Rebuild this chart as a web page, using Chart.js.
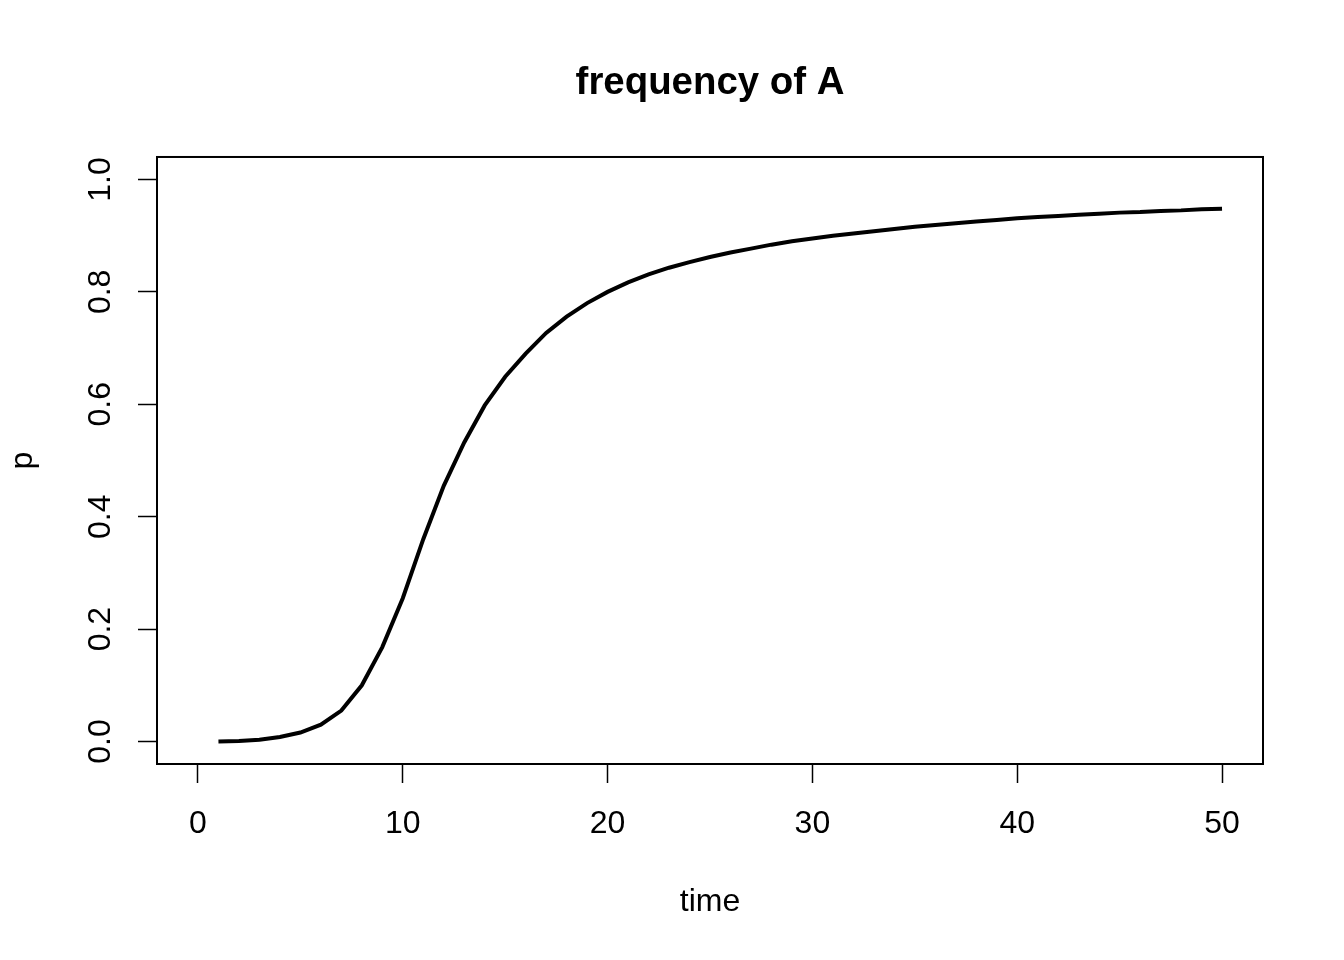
<!DOCTYPE html>
<html>
<head>
<meta charset="utf-8">
<title>frequency of A</title>
<script src="https://cdn.jsdelivr.net/npm/chart.js@4"></script>
<style>
  body { margin: 0; background: #fff; }
  canvas { display: block; }
</style>
</head>
<body>
<canvas id="chart" width="1344" height="960"></canvas>
<script>
// values
const times = [1, 2, 3, 4, 5, 6, 7, 8, 9, 10,
               11, 12, 13, 14, 15, 16, 17, 18, 19, 20,
               21, 22, 23, 24, 25, 26, 27, 28, 29, 30,
               31, 32, 33, 34, 35, 36, 37, 38, 39, 40,
               41, 42, 43, 44, 45, 46, 47, 48, 49, 50];
const freqA = [0.000, 0.001, 0.003, 0.008, 0.016, 0.030, 0.055, 0.100, 0.168, 0.255,
               0.360, 0.455, 0.532, 0.598, 0.649, 0.690, 0.727, 0.756, 0.780, 0.800,
               0.817, 0.831, 0.843, 0.853, 0.862, 0.870, 0.877, 0.884, 0.890, 0.895,
               0.900, 0.904, 0.908, 0.912, 0.916, 0.919, 0.922, 0.925, 0.928, 0.931,
               0.933, 0.935, 0.937, 0.939, 0.941, 0.942, 0.944, 0.945, 0.947, 0.948];
const xTicks = [0, 10, 20, 30, 40, 50];
const yTicks = [0, 0.2, 0.4, 0.6, 0.8, 1.0];

const FONT = "'Liberation Sans', Arial, Helvetica, sans-serif";

// R-style box around the plot region
const boxPlugin = {
    id: "box",
    afterDraw(chart) {
        const a = chart.chartArea;
        const ctx = chart.ctx;
        ctx.save();
        ctx.strokeStyle = "#000";
        ctx.lineWidth = 2;
        ctx.strokeRect(a.left, a.top, a.right - a.left, a.bottom - a.top);
        ctx.restore();
    }
};

const whiteBg = {
    id: "whiteBg",
    beforeDraw(chart) {
        const ctx = chart.ctx;
        ctx.save();
        ctx.fillStyle = "#fff";
        ctx.fillRect(0, 0, chart.width, chart.height);
        ctx.restore();
    }
};

const ctx = document.getElementById("chart").getContext("2d");
new Chart(ctx, {
    type: "line",
    data: {
        datasets: [{
            data: times.map((t, i) => ({ x: t, y: freqA[i] })),
            borderColor: "#000",
            borderWidth: 4,
            pointRadius: 0,
            tension: 0,
            fill: false
        }]
    },
    options: {
        responsive: false,
        animation: false,
        layout: { padding: { left: 0, right: 81, top: 0, bottom: 0 } },
        plugins: {
            legend: { display: false },
            tooltip: { enabled: false },
            title: {
                display: true,
                text: "frequency of A",
                fullSize: false,
                color: "#000",
                font: { family: FONT, size: 38.4, weight: "bold", lineHeight: 1.2 },
                padding: { top: 60, bottom: 50.9 }
            }
        },
        scales: {
            x: {
                type: "linear",
                min: -2,
                max: 52,
                afterBuildTicks: (scale) => { scale.ticks = xTicks.map(v => ({ value: v })); },
                afterFit: (scale) => { scale.height = 196; },
                grid: {
                    display: true,
                    drawOnChartArea: false,
                    drawTicks: true,
                    tickLength: 19,
                    tickColor: "#000",
                    tickWidth: 1.5
                },
                border: { display: true, color: "#000", width: 2 },
                ticks: {
                    color: "#000",
                    font: { family: FONT, size: 32 },
                    padding: 22,
                    maxRotation: 0,
                    autoSkip: false
                },
                title: {
                    display: true,
                    text: "time",
                    color: "#000",
                    font: { family: FONT, size: 32, lineHeight: 1.2 },
                    padding: { top: 0, bottom: 39 }
                }
            },
            y: {
                min: -0.04,
                max: 1.04,
                afterBuildTicks: (scale) => { scale.ticks = yTicks.map(v => ({ value: v })); },
                afterFit: (scale) => { scale.width = 157; },
                grid: {
                    display: true,
                    drawOnChartArea: false,
                    drawTicks: true,
                    tickLength: 19,
                    tickColor: "#000",
                    tickWidth: 1.5
                },
                border: { display: true, color: "#000", width: 2 },
                ticks: {
                    color: "#000",
                    font: { family: FONT, size: 32 },
                    padding: 15,
                    minRotation: 90,
                    maxRotation: 90,
                    crossAlign: "center",
                    autoSkip: false,
                    callback: (v) => v.toFixed(1)
                },
                title: {
                    display: true,
                    text: "p",
                    color: "#000",
                    font: { family: FONT, size: 32, lineHeight: 1.2 },
                    padding: { top: 4.4, bottom: 0 }
                }
            }
        }
    },
    plugins: [whiteBg, boxPlugin]
});
</script>
</body>
</html>
